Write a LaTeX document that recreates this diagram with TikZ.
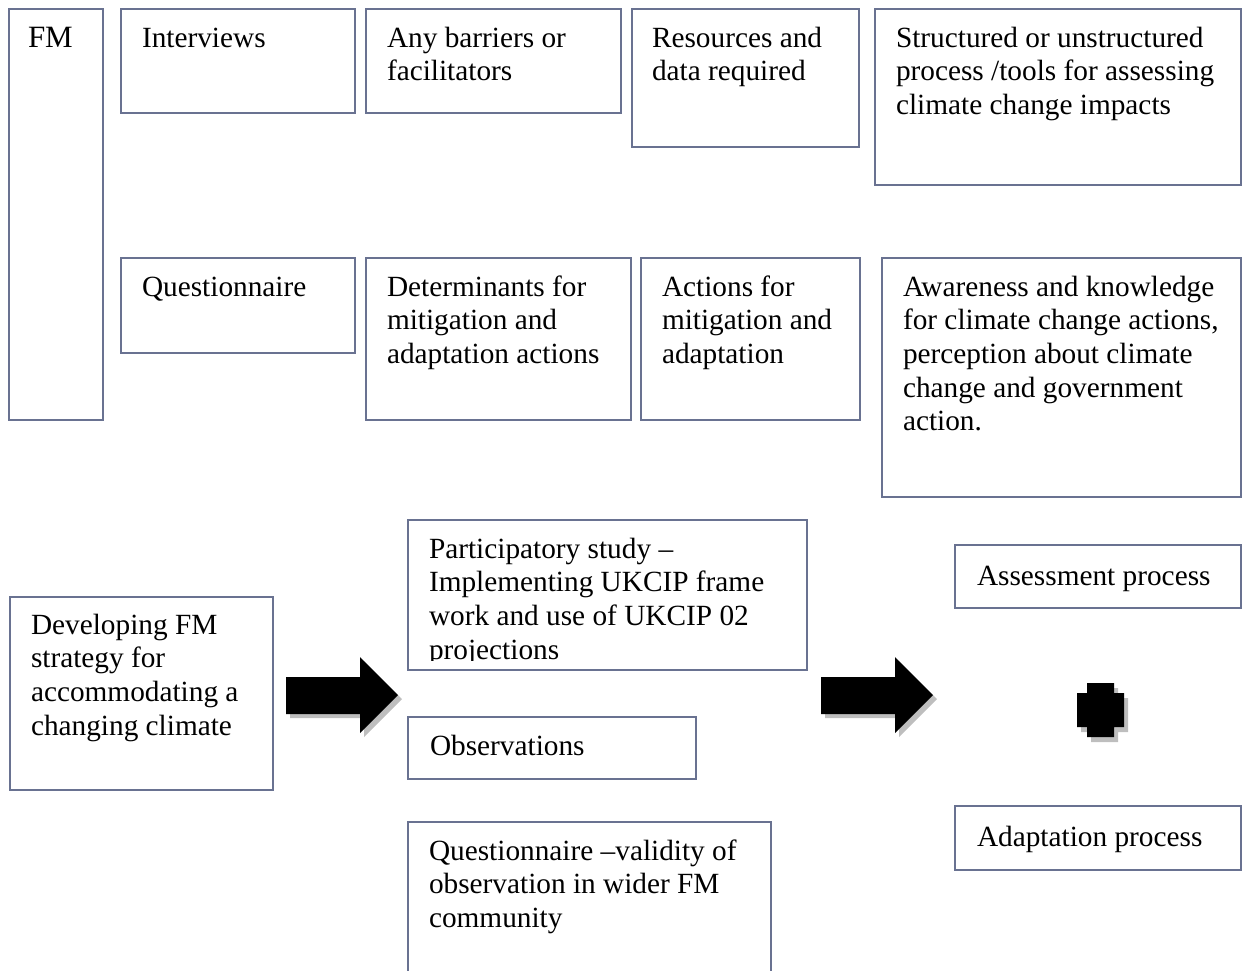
\documentclass[tikz,border=0pt]{standalone}
\usepackage{fontspec}
\setmainfont{Liberation Serif}
\definecolor{boxcol}{RGB}{105,114,145}
\definecolor{shadowgray}{RGB}{190,190,190}
\newcommand\txtlines[1]{\vtop{\baselineskip=33.7pt\lineskiplimit=-100pt\halign{##\hfil\cr#1\crcr}}}
\begin{document}
\begin{tikzpicture}[x=1pt,y=-1pt,
  box/.style={draw=boxcol, line width=1.6pt, fill=white, rectangle, inner sep=0pt, outer sep=0pt, anchor=north west},
  txt/.style={anchor=base west, inner sep=0pt, outer sep=0pt, font=\fontsize{29.3}{33.7}\selectfont},
  blockarrow/.pic={
    \fill[shadowgray] (4,4) -- (78,4) -- (78,-16) -- (116,22) -- (78,60) -- (78,41) -- (4,41) -- cycle;
    \fill[black] (0,0) -- (74,0) -- (74,-20) -- (112,18) -- (74,56) -- (74,37) -- (0,37) -- cycle;
  }]
\useasboundingbox (0,0) rectangle (1248,970);

% top rows
\node[box, minimum width=94, minimum height=411] (fm) at (9,9) {};
\node[txt, font=\fontsize{31}{33.7}\selectfont] (tfm) at ([shift={(19,38)}]fm.north west) {FM};

\node[box, minimum width=234, minimum height=104] (iv) at (121,9) {};
\node[txt] (tiv) at ([shift={(21,38)}]iv.north west) {Interviews};

\node[box, minimum width=255, minimum height=104] (bar) at (366,9) {};
\node[txt] (tbar) at ([shift={(21,38)}]bar.north west) {\txtlines{Any barriers or\cr facilitators}};

\node[box, minimum width=227, minimum height=138] (res) at (632,9) {};
\node[txt] (tres) at ([shift={(20,38)}]res.north west) {\txtlines{Resources and\cr data required}};

\node[box, minimum width=366, minimum height=176] (str) at (875,9) {};
\node[txt] (tstr) at ([shift={(21,38)}]str.north west) {\txtlines{Structured or unstructured\cr process /tools for assessing\cr climate change impacts}};

\node[box, minimum width=234, minimum height=95] (q) at (121,258) {};
\node[txt] (tq) at ([shift={(21,38)}]q.north west) {Questionnaire};

\node[box, minimum width=265, minimum height=162] (det) at (366,258) {};
\node[txt] (tdet) at ([shift={(21,38)}]det.north west) {\txtlines{Determinants for\cr mitigation and\cr adaptation actions}};

\node[box, minimum width=219, minimum height=162] (act) at (641,258) {};
\node[txt] (tact) at ([shift={(21,38)}]act.north west) {\txtlines{Actions for\cr mitigation and\cr adaptation}};

\node[box, minimum width=359, minimum height=239] (aw) at (882,258) {};
\node[txt] (taw) at ([shift={(21,38)}]aw.north west) {\txtlines{Awareness and knowledge\cr for climate change actions,\cr perception about climate\cr change and government\cr action.}};

% bottom part
\node[box, minimum width=263, minimum height=193] (dev) at (10,597) {};
\node[txt] (tdev) at ([shift={(21,37)}]dev.north west) {\txtlines{Developing FM\cr strategy for\cr accommodating a\cr changing climate}};

\node[box, minimum width=399, minimum height=150] (par) at (408,520) {};
\begin{scope}
  \clip (par.north west) rectangle ([yshift=10pt]par.south east);
  \node[txt] (tpar) at ([shift={(21,38)}]par.north west) {\txtlines{Participatory study --\cr Implementing UKCIP frame\cr work and use of UKCIP 02\cr projections}};
\end{scope}

\node[box, minimum width=288, minimum height=62] (obs) at (408,717) {};
\node[txt] (tobs) at ([shift={(22,38)}]obs.north west) {Observations};

\node[box, minimum width=363, minimum height=170] (qv) at (408,822) {};
\node[txt] (tqv) at ([shift={(21,38)}]qv.north west) {\txtlines{Questionnaire --validity of\cr observation in wider FM\cr community}};

\node[box, minimum width=286, minimum height=63] (ass) at (955,545) {};
\node[txt] (tass) at ([shift={(22,40)}]ass.north west) {Assessment process};

\node[box, minimum width=286, minimum height=64] (ada) at (955,806) {};
\node[txt] (tada) at ([shift={(22,40)}]ada.north west) {Adaptation process};

% block arrows
\coordinate (a1) at (286,677);
\coordinate (a2) at (821,677);
\pic at (a1) {blockarrow};
\pic at (a2) {blockarrow};

% blob
\coordinate (blob) at (1077,683);
\fill[shadowgray, shift={(blob)}, shift={(4,5)}] (10,0) -- (37,0) -- (37,10) -- (47,10) -- (47,44) -- (37,44) -- (37,54) -- (10,54) -- (10,44) -- (0,44) -- (0,10) -- (10,10) -- cycle;
\fill[black, shift={(blob)}] (10,0) -- (37,0) -- (37,10) -- (47,10) -- (47,44) -- (37,44) -- (37,54) -- (10,54) -- (10,44) -- (0,44) -- (0,10) -- (10,10) -- cycle;
\end{tikzpicture}
\end{document}
